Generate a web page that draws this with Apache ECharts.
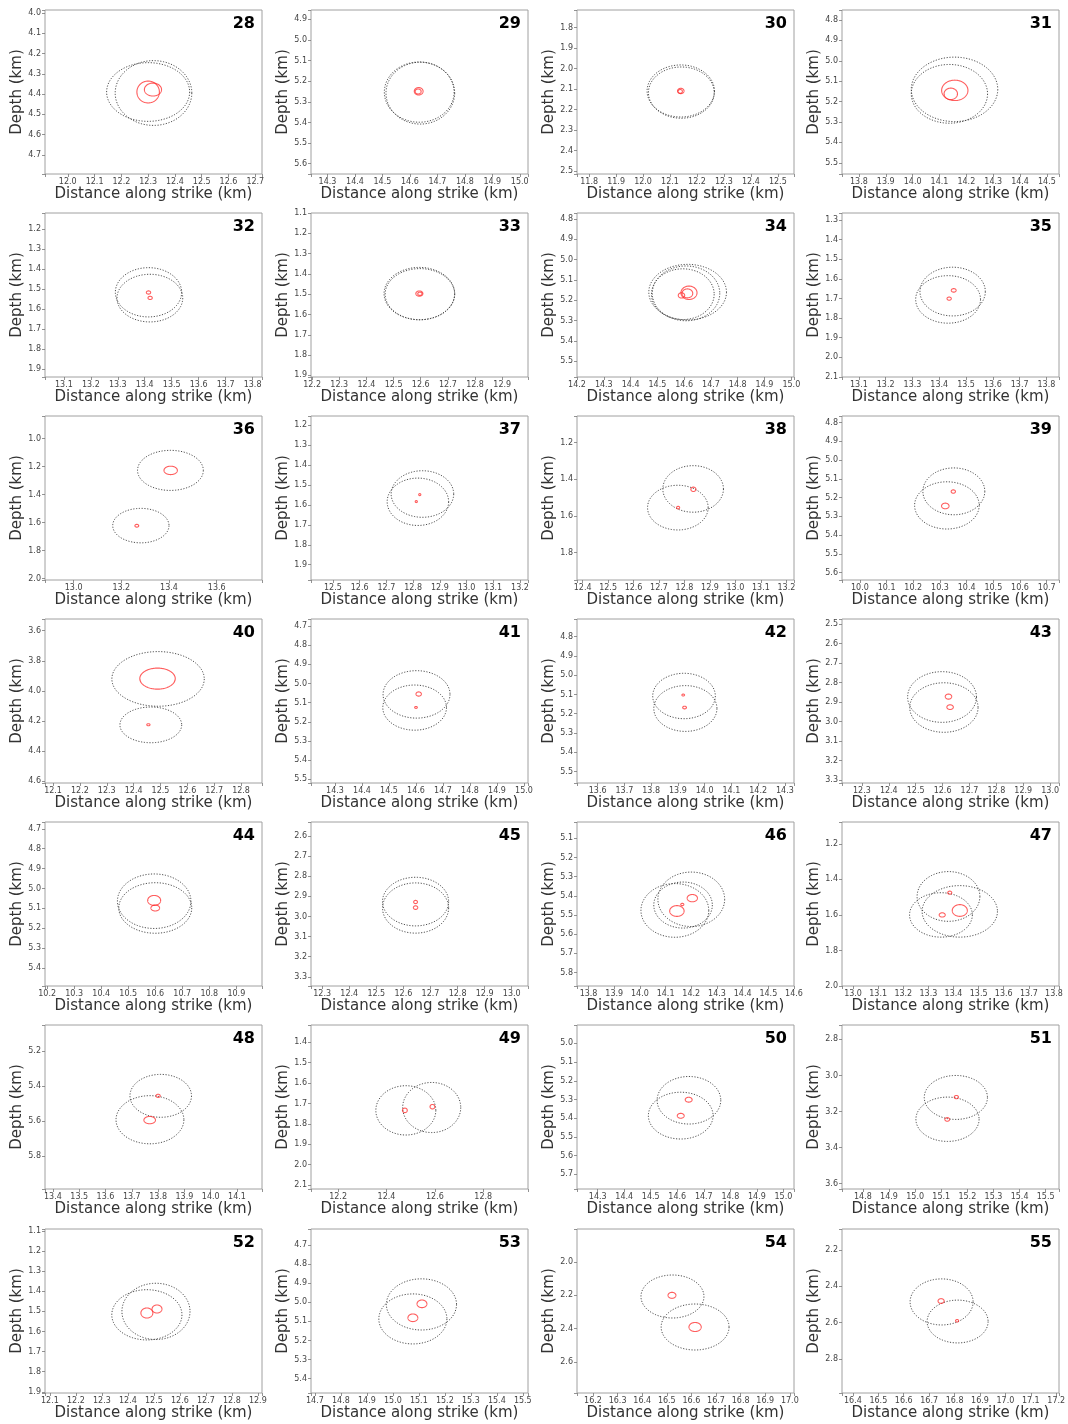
<!DOCTYPE html>
<html>
<head>
<meta charset="utf-8">
<script src="https://cdn.jsdelivr.net/npm/echarts@6/dist/echarts.min.js"></script>
<style>
html,body{margin:0;padding:0;background:#fff;}
#chart{width:1068px;height:1424px;}
</style>
</head>
<body>
<div id="chart"></div>
<script>
// ---------------- DATA ----------------
const panelIds = [28,29,30,31,32,33,34,35,36,37,38,39,40,41,42,43,44,45,46,47,48,49,50,51,52,53,54,55];

const xRanges = [
  [11.915,12.725],[14.24,15.03],[11.755,12.56],[13.737,14.545],
  [13.03,13.835],[12.196,12.995],[14.2,15.01],[13.037,13.847],
  [12.88,13.79],[12.418,13.23],[12.378,13.23],[9.933,10.746],
  [12.07,12.878],[14.211,15.015],[13.523,14.334],[12.226,13.033],
  [10.192,10.995],[12.259,13.06],[13.755,14.6],[12.956,13.82],
  [13.37,14.195],[12.088,12.985],[14.222,15.04],[14.72,15.551],
  [12.081,12.916],[14.685,15.52],[16.135,17.017],[16.357,17.211]
];
const yRanges = [
  [3.985,4.795],[4.855,5.65],[1.715,2.515],[4.751,5.555],
  [1.121,1.94],[1.1,1.908],[4.77,5.578],[1.265,2.10],
  [0.84,2.01],[1.153,1.977],[1.055,1.95],[4.765,5.64],
  [3.522,4.614],[4.663,5.52],[4.708,5.56],[2.474,3.315],
  [4.666,5.49],[2.53,3.346],[5.015,5.87],[1.077,2.0],
  [5.05,5.99],[1.315,2.12],[4.902,5.778],[2.72,3.63],
  [1.09,1.906],[4.616,5.475],[1.802,2.786],[2.084,2.988]
];
const xSteps = [0.1,0.1,0.1,0.1, 0.1,0.1,0.1,0.1, 0.2,0.1,0.1,0.1, 0.1,0.1,0.1,0.1,
                0.1,0.1,0.1,0.1, 0.1,0.2,0.1,0.1, 0.1,0.1,0.1,0.1];
const ySteps = [0.1,0.1,0.1,0.1, 0.1,0.1,0.1,0.1, 0.2,0.1,0.2,0.1, 0.2,0.1,0.1,0.1,
                0.1,0.1,0.1,0.2, 0.2,0.1,0.1,0.2, 0.1,0.1,0.2,0.2];

// absolute location uncertainty ellipses: [x, depth, half-width, half-height] (km)
const grayEllipses = [
  [[12.30,4.39,0.155,0.145],[12.32,4.395,0.143,0.16]],
  [[14.638,5.258,0.125,0.15],[14.634,5.253,0.127,0.146]],
  [[12.14,2.11,0.125,0.127],[12.142,2.118,0.122,0.125]],
  [[14.156,5.14,0.161,0.158],[14.137,5.162,0.142,0.144]],
  [[13.414,1.517,0.123,0.123],[13.419,1.546,0.122,0.119]],
  [[12.595,1.497,0.13,0.129],[12.597,1.5,0.128,0.126]],
  [[14.613,5.16,0.145,0.137],[14.607,5.166,0.126,0.135],[14.595,5.17,0.117,0.125]],
  [[13.45,1.665,0.122,0.124],[13.433,1.705,0.121,0.121]],
  [[13.406,1.228,0.138,0.143],[13.282,1.622,0.118,0.123]],
  [[12.835,1.545,0.117,0.117],[12.818,1.584,0.115,0.119]],
  [[12.834,1.453,0.119,0.127],[12.774,1.555,0.119,0.122]],
  [[10.352,5.167,0.116,0.125],[10.326,5.242,0.121,0.126]],
  [[12.491,3.921,0.172,0.182],[12.464,4.227,0.115,0.119]],
  [[14.602,5.057,0.124,0.124],[14.595,5.126,0.118,0.118]],
  [[13.923,5.108,0.117,0.118],[13.928,5.173,0.118,0.119]],
  [[12.598,2.874,0.128,0.13],[12.605,2.928,0.127,0.127]],
  [[10.596,5.064,0.136,0.137],[10.6,5.098,0.135,0.127]],
  [[12.645,2.926,0.122,0.121],[12.645,2.958,0.122,0.125]],
  [[14.2,5.418,0.13,0.142],[14.168,5.448,0.114,0.12],[14.136,5.476,0.132,0.14]],
  [[13.38,1.496,0.125,0.14],[13.35,1.6,0.125,0.125],[13.425,1.58,0.15,0.145]],
  [[13.81,5.456,0.117,0.123],[13.769,5.593,0.129,0.138]],
  [[12.48,1.734,0.124,0.121],[12.587,1.72,0.12,0.123]],
  [[14.644,5.304,0.12,0.127],[14.613,5.386,0.122,0.125]],
  [[15.156,3.122,0.121,0.122],[15.124,3.243,0.121,0.123]],
  [[12.508,1.5,0.131,0.14],[12.473,1.517,0.135,0.125]],
  [[15.11,5.011,0.135,0.134],[15.077,5.087,0.131,0.131]],
  [[16.523,2.207,0.128,0.129],[16.615,2.39,0.138,0.138]],
  [[16.749,2.486,0.124,0.127],[16.812,2.594,0.12,0.118]]
];

// relative location uncertainty ellipses: [x, depth, half-width, half-height] (km)
const redEllipses = [
  [[12.30,4.39,0.042,0.054],[12.318,4.378,0.032,0.032]],
  [[14.632,5.249,0.016,0.018],[14.63,5.25,0.011,0.012]],
  [[12.14,2.11,0.012,0.013],[12.138,2.112,0.008,0.009]],
  [[14.157,5.145,0.049,0.05],[14.142,5.162,0.025,0.028]],
  [[13.414,1.518,0.008,0.008],[13.42,1.545,0.008,0.008]],
  [[12.595,1.497,0.013,0.013],[12.597,1.498,0.008,0.008]],
  [[14.618,5.163,0.03,0.033],[14.612,5.166,0.02,0.022],[14.59,5.176,0.012,0.013]],
  [[13.454,1.659,0.009,0.009],[13.437,1.701,0.008,0.008]],
  [[13.407,1.228,0.028,0.03],[13.265,1.623,0.008,0.01]],
  [[12.825,1.548,0.004,0.005],[12.812,1.583,0.004,0.005]],
  [[12.835,1.455,0.01,0.012],[12.775,1.555,0.006,0.007]],
  [[10.35,5.168,0.008,0.009],[10.32,5.245,0.014,0.015]],
  [[12.489,3.919,0.066,0.07],[12.455,4.226,0.006,0.007]],
  [[14.61,5.055,0.01,0.011],[14.6,5.125,0.005,0.005]],
  [[13.92,5.103,0.005,0.005],[13.925,5.168,0.007,0.007]],
  [[12.622,2.872,0.012,0.013],[12.628,2.926,0.012,0.012]],
  [[10.596,5.06,0.024,0.025],[10.6,5.098,0.016,0.015]],
  [[12.645,2.928,0.007,0.008],[12.645,2.956,0.008,0.009]],
  [[14.204,5.412,0.02,0.019],[14.165,5.445,0.006,0.006],[14.144,5.479,0.028,0.028]],
  [[13.385,1.475,0.008,0.009],[13.355,1.6,0.012,0.012],[13.425,1.575,0.03,0.033]],
  [[13.8,5.456,0.008,0.009],[13.768,5.595,0.022,0.021]],
  [[12.476,1.734,0.01,0.011],[12.59,1.716,0.01,0.011]],
  [[14.643,5.301,0.013,0.013],[14.613,5.387,0.013,0.013]],
  [[15.158,3.12,0.008,0.009],[15.123,3.244,0.009,0.01]],
  [[12.473,1.508,0.023,0.025],[12.512,1.488,0.019,0.02]],
  [[15.112,5.008,0.019,0.02],[15.077,5.081,0.019,0.02]],
  [[16.521,2.2,0.016,0.018],[16.615,2.39,0.025,0.027]],
  [[16.747,2.481,0.012,0.013],[16.81,2.59,0.006,0.007]]
];

const xLabel = 'Distance along strike (km)';
const yLabel = 'Depth (km)';

// ---------------- LAYOUT ----------------
const colLeft = [45, 311, 577, 842];
const rowTop = [10, 213, 416, 619, 822, 1025, 1229];
const boxW = 217, boxH = 164;
const FONT = 'DejaVu Sans';

function tickFormatter(step) {
  return function (v) {
    const k = v / step;
    return Math.abs(k - Math.round(k)) < 1e-6 ? v.toFixed(1) : '';
  };
}

function ellipseRenderer(color, dash, width) {
  return function (params, api) {
    const cx = api.value(0), cy = api.value(1), rx = api.value(2), ry = api.value(3);
    const c = api.coord([cx, cy]);
    const px = api.coord([cx + rx, cy]);
    const py = api.coord([cx, cy + ry]);
    const Rx = Math.abs(px[0] - c[0]);
    const Ry = Math.abs(py[1] - c[1]);
    const pts = [];
    const N = 120;
    for (let i = 0; i < N; i++) {
      const t = 2 * Math.PI * i / N;
      pts.push([c[0] + Rx * Math.cos(t), c[1] + Ry * Math.sin(t)]);
    }
    return {
      type: 'polygon',
      shape: { points: pts },
      style: { fill: 'none', stroke: color, lineWidth: width, lineDash: dash }
    };
  };
}

const grids = [], xAxes = [], yAxes = [], series = [], titles = [];
panelIds.forEach((id, i) => {
  const col = i % 4, row = Math.floor(i / 4);
  const L = colLeft[col], T = rowTop[row];
  grids.push({
    left: L, top: T, width: boxW, height: boxH,
    show: true, borderColor: '#a0a0a0', borderWidth: 1, backgroundColor: 'transparent',
    containLabel: false, outerBoundsMode: 'none'
  });
  xAxes.push({
    type: 'value', gridIndex: i,
    min: xRanges[i][0], max: xRanges[i][1],
    minInterval: xSteps[i], maxInterval: xSteps[i],
    splitLine: { show: false },
    axisLine: { show: false },
    axisTick: { show: true, length: 3, lineStyle: { color: '#777', width: 0.8 } },
    axisLabel: { formatter: tickFormatter(xSteps[i]), fontSize: 8, color: '#444', margin: 4, fontFamily: FONT },
    name: xLabel, nameLocation: 'middle', nameGap: 12,
    nameTextStyle: { fontSize: 15, color: '#333', fontFamily: FONT }
  });
  yAxes.push({
    type: 'value', gridIndex: i, inverse: true,
    min: yRanges[i][0], max: yRanges[i][1],
    minInterval: ySteps[i], maxInterval: ySteps[i],
    splitLine: { show: false },
    axisLine: { show: false },
    axisTick: { show: true, length: 3, lineStyle: { color: '#777', width: 0.8 } },
    axisLabel: { formatter: tickFormatter(ySteps[i]), fontSize: 8, color: '#444', margin: 4, fontFamily: FONT },
    name: yLabel, nameLocation: 'middle', nameGap: 19, nameRotate: 90,
    nameTextStyle: { fontSize: 15, color: '#333', fontFamily: FONT }
  });
  series.push({
    type: 'custom', xAxisIndex: i, yAxisIndex: i, clip: true, silent: true,
    renderItem: ellipseRenderer('#3a3a3a', [1.2, 1.6], 0.9),
    encode: { x: 0, y: 1 },
    data: grayEllipses[i]
  });
  series.push({
    type: 'custom', xAxisIndex: i, yAxisIndex: i, clip: true, silent: true,
    renderItem: ellipseRenderer('rgba(255,40,40,0.75)', null, 1.1),
    encode: { x: 0, y: 1 },
    data: redEllipses[i]
  });
  titles.push({
    text: String(id),
    right: 1068 - (L + boxW) + 7, top: T + 6, padding: 0,
    textStyle: { fontSize: 16, fontWeight: 'bold', color: '#000', fontFamily: FONT }
  });
});

const chart = echarts.init(document.getElementById('chart'), null, { renderer: 'canvas' });
chart.setOption({
  animation: false,
  backgroundColor: '#fff',
  title: titles,
  grid: grids,
  xAxis: xAxes,
  yAxis: yAxes,
  series: series
});
</script>
</body>
</html>
